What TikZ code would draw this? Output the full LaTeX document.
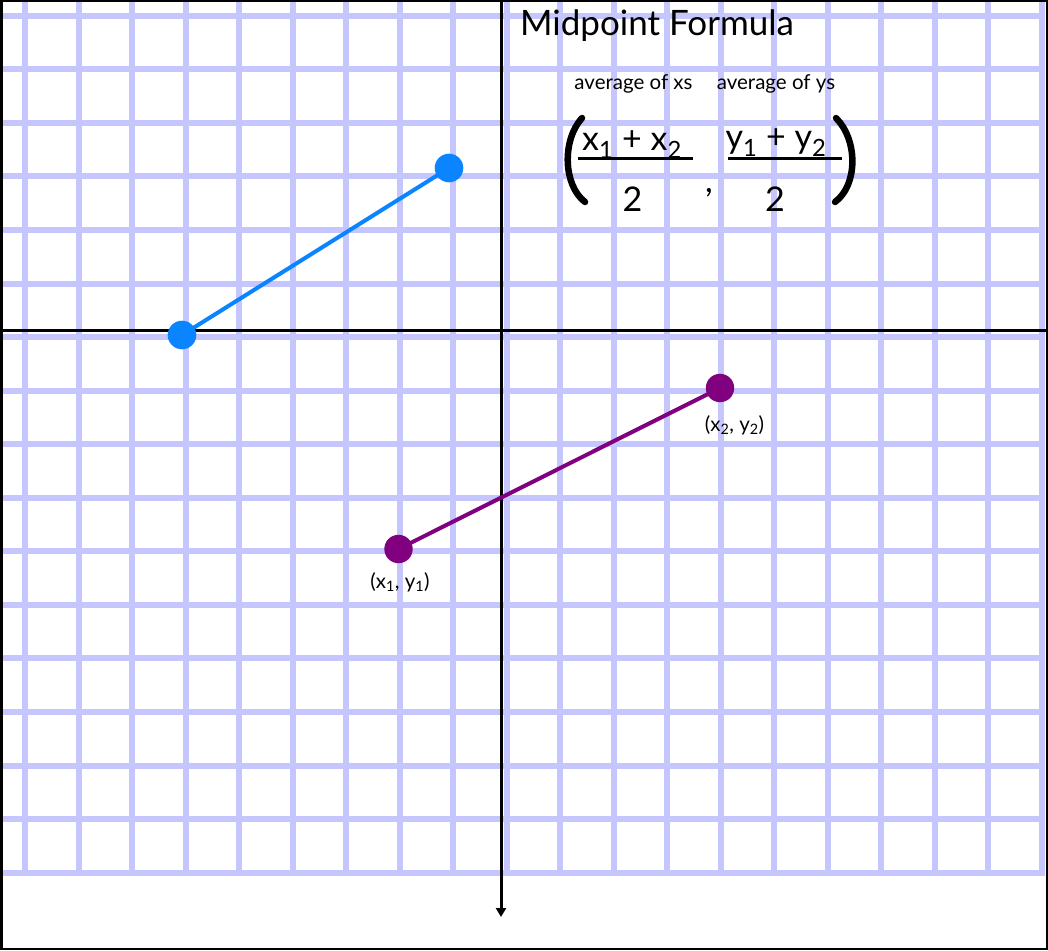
\documentclass[tikz,border=0pt]{standalone}
\usepackage{fontspec}
\setmainfont{Lato}
\usetikzlibrary{arrows.meta}
\definecolor{gridblue}{HTML}{C6C6FF}
\definecolor{segblue}{HTML}{0A84FF}
\definecolor{segpurple}{HTML}{800080}
\tikzset{
  gridline/.style={gridblue, line width=6pt},
  axisline/.style={black, line width=3pt},
  segline/.style={line width=4pt},
  ptlabel/.style={font=\fontsize{20.5}{20.5}\selectfont, inner sep=0pt, anchor=base},
  avglabel/.style={font=\fontsize{20.5}{20.5}\selectfont, inner sep=0pt, anchor=base},
  fractext/.style={font=\fontsize{34}{34}\selectfont, inner sep=0pt, anchor=base},
  fracbar/.style={black, line width=3pt},
  bigparen/.style={black, line width=6.5pt, line cap=round},
}
\begin{document}
\begin{tikzpicture}[x=1pt,y=-1pt]
\useasboundingbox (0,0) rectangle (1048,950);
\fill[white] (0,0) rectangle (1048,950);
% grid
\foreach \k in {0,...,16} \draw[gridline] (0,{15.7+53.56*\k}) -- (1045,{15.7+53.56*\k});
\foreach \k in {0,...,19} \draw[gridline] ({25.4+53.5*\k},0) -- ({25.4+53.5*\k},875.7);
% axes
\coordinate (xl) at (0,330);
\coordinate (xr) at (1048,330);
\draw[axisline] (xl) -- (xr);
\coordinate (yt) at (501,0);
\coordinate (yb) at (501,917);
\draw[axisline, -{Triangle[length=9pt,width=10pt]}] (yt) -- (yb);
% blue segment
\coordinate (b1) at (182,335);
\coordinate (b2) at (449,168);
\draw[segline, segblue] (b1) -- (b2);
\fill[segblue] (b1) circle (14.3);
\fill[segblue] (b2) circle (14.3);
% purple segment
\coordinate (p1) at (398.5,549);
\coordinate (p2) at (720,388);
\draw[segline, segpurple] (p1) -- (p2);
\fill[segpurple] (p1) circle (14.2);
\fill[segpurple] (p2) circle (14.2);
\node[ptlabel] (l1) at (400,588) {(x\textsubscript{1}, y\textsubscript{1})};
\node[ptlabel] (l2) at (734.5,431.5) {(x\textsubscript{2}, y\textsubscript{2})};
% formula
\node[anchor=base west, font=\fontsize{35}{35}\selectfont, inner sep=0pt] (title) at (520,36) {Midpoint Formula};
\node[avglabel] (avgx) at (633.5,89) {average of xs};
\node[avglabel] (avgy) at (776,89) {average of ys};
\node[fractext] (num1) at (632,150) {x\textsubscript{1} + x\textsubscript{2}};
\node[fractext] (num2) at (776,148) {y\textsubscript{1} + y\textsubscript{2}};
\coordinate (bar1l) at (578,158);
\coordinate (bar1r) at (693,158);
\coordinate (bar2l) at (728,158);
\coordinate (bar2r) at (842,158);
\draw[fracbar] (bar1l) -- (bar1r);
\draw[fracbar] (bar2l) -- (bar2r);
\node[fractext] (den1) at (632.5,211.5) {2};
\node[fractext] (den2) at (775,211.5) {2};
\node[fractext] (comma) at (709,192) {,};
\draw[bigparen] (582,118) .. controls (562,140) and (563,185) .. (585,202);
\draw[bigparen] (836,118) .. controls (858,140) and (858,185) .. (835,202);
% frame
\draw[black, line width=2.5pt] (1.25,1.25) rectangle (1046.75,948.75);
\end{tikzpicture}
\end{document}
